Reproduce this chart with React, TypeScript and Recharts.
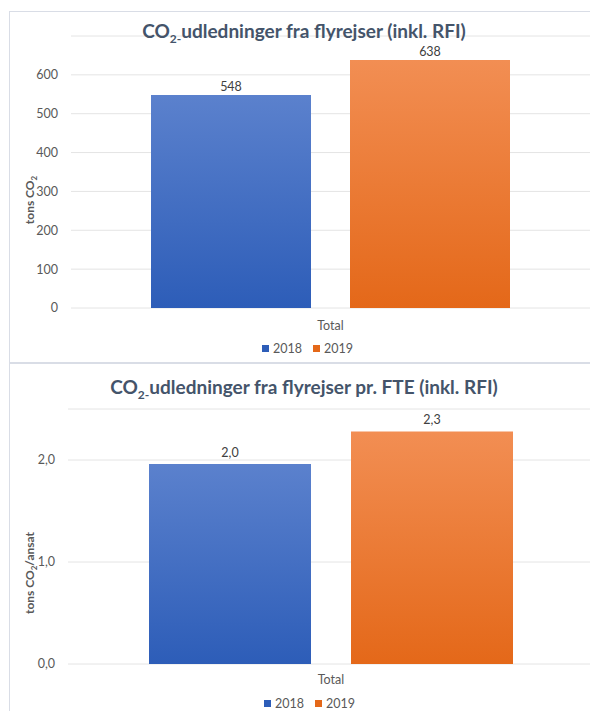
import { Bar, BarChart, CartesianGrid, LabelList, XAxis, YAxis } from 'recharts'

const categories = ['Total']
const years = ['2018', '2019']
const totalEmissions = [548, 638]
const emissionsPerFte = [1.96, 2.28]
const totalTicks = [0, 100, 200, 300, 400, 500, 600]
const fteTicks = [0, 1, 2]

const FONT = 'Lato, "Open Sans", sans-serif'
const TEXT = '#595959'
const TITLE = '#44546a'
const GRID = '#e4e4e4'
const BORDER = '#d9dde6'
const COLORS = [
  ['#5b81cd', '#2d5db8'],
  ['#f28e53', '#e46819'],
]

function buildRows(values: number[]) {
  return categories.map((c) => {
    const row: Record<string, string | number> = { category: c }
    years.forEach((y, i) => {
      row[y] = values[i]
    })
    return row
  })
}

const comma = (v: number) => v.toFixed(1).replace('.', ',')

function Gradients({ id }: { id: string }) {
  return (
    <defs>
      {COLORS.map((c, i) => (
        <linearGradient key={i} id={`${id}-${i}`} x1="0" y1="0" x2="0" y2="1">
          <stop offset="0%" stopColor={c[0]} />
          <stop offset="100%" stopColor={c[1]} />
        </linearGradient>
      ))}
    </defs>
  )
}

function axisTitle(x: number, y: number, unit: string) {
  return () => (
    <text
      transform={`translate(${x},${y}) rotate(-90)`}
      textAnchor="middle"
      fontFamily={FONT}
      fontSize={12}
      fontWeight={700}
      fill={TEXT}
    >
      tons CO
      <tspan dy={3} fontSize={8}>
        2
      </tspan>
      <tspan dy={-3}>{unit}</tspan>
    </text>
  )
}

function Title({ text, top }: { text: string; top: number }) {
  return (
    <div
      style={{
        position: 'absolute',
        left: 0,
        width: 588,
        top,
        lineHeight: '18px',
        textAlign: 'center',
        fontFamily: FONT,
        fontWeight: 700,
        fontSize: 19,
        color: TITLE,
        whiteSpace: 'nowrap',
      }}
    >
      CO<sub style={{ fontSize: 12, lineHeight: 0 }}>2-</sub>
      {text}
    </div>
  )
}

function YearLegend({ top, left }: { top: number; left: number }) {
  return (
    <div
      style={{
        position: 'absolute',
        top,
        left,
        display: 'flex',
        alignItems: 'center',
        gap: 4,
        fontFamily: FONT,
        fontSize: 12.5,
        color: TEXT,
      }}
    >
      {years.map((y, i) => (
        <span key={y} style={{ display: 'flex', alignItems: 'center', marginRight: i === 0 ? 7 : 0 }}>
          <span style={{ width: 7, height: 7, background: COLORS[i][1], marginRight: 4 }} />
          {y}
        </span>
      ))}
    </div>
  )
}

const box = (top: number, height: number): React.CSSProperties => ({
  position: 'absolute',
  left: 9,
  top,
  width: 600,
  height,
  border: `1px solid ${BORDER}`,
  background: '#fff',
})

export default function App() {
  const rows1 = buildRows(totalEmissions)
  const rows2 = buildRows(emissionsPerFte)
  const tickStyle = { fontFamily: FONT, fontSize: 12.5, fill: TEXT }

  return (
    <div
      style={{
        position: 'fixed',
        left: 0,
        top: 0,
        width: 590,
        height: 711,
        overflow: 'hidden',
        background: '#fff',
      }}
    >
      <div style={box(11, 350)}>
        <BarChart
          width={590}
          height={350}
          data={rows1}
          margin={{ top: 24, right: 10, bottom: 24, left: 0 }}
          barSize={160}
          barGap={39}
        >
          <Gradients id="g1" />
          <CartesianGrid vertical={false} stroke={GRID} />
          <XAxis
            dataKey="category"
            height={30}
            axisLine={false}
            tickLine={false}
            tickSize={0}
            tickMargin={13}
            tick={tickStyle}
          />
          <YAxis
            width={61}
            domain={[0, 700]}
            ticks={totalTicks}
            axisLine={false}
            tickLine={false}
            tickSize={0}
            tickMargin={13}
            tick={tickStyle}
            label={{ content: axisTitle(24, 188, '') }}
          />
          {years.map((y, i) => (
            <Bar key={y} dataKey={y} fill={`url(#g1-${i})`} isAnimationActive={false}>
              <LabelList dataKey={y} position="top" offset={4} fill="#404040" fontFamily={FONT} fontSize={12.5} />
            </Bar>
          ))}
        </BarChart>
        <Title text="udledninger fra flyrejser (inkl. RFI)" top={10} />
        <YearLegend top={329} left={252} />
      </div>

      <div style={box(363, 360)}>
        <BarChart
          width={590}
          height={347}
          data={rows2}
          margin={{ top: 45, right: 6, bottom: 17, left: 0 }}
          barSize={162}
          barGap={40}
        >
          <Gradients id="g2" />
          <CartesianGrid vertical={false} stroke={GRID} />
          <XAxis
            dataKey="category"
            height={30}
            axisLine={false}
            tickLine={false}
            tickSize={0}
            tickMargin={11}
            tick={tickStyle}
          />
          <YAxis
            width={58}
            domain={[0, 2.5]}
            ticks={fteTicks}
            axisLine={false}
            tickLine={false}
            tickSize={0}
            tickMargin={13}
            tick={tickStyle}
            tickFormatter={comma}
            label={{ content: axisTitle(24, 209, '/ansat') }}
          />
          {years.map((y, i) => (
            <Bar key={y} dataKey={y} fill={`url(#g2-${i})`} isAnimationActive={false}>
              <LabelList
                dataKey={y}
                position="top"
                offset={7}
                formatter={(v: number) => comma(v)}
                fill="#404040"
                fontFamily={FONT}
                fontSize={12.5}
              />
            </Bar>
          ))}
        </BarChart>
        <Title text="udledninger fra flyrejser pr. FTE (inkl. RFI)" top={14} />
        <YearLegend top={332} left={254} />
      </div>
    </div>
  )
}
